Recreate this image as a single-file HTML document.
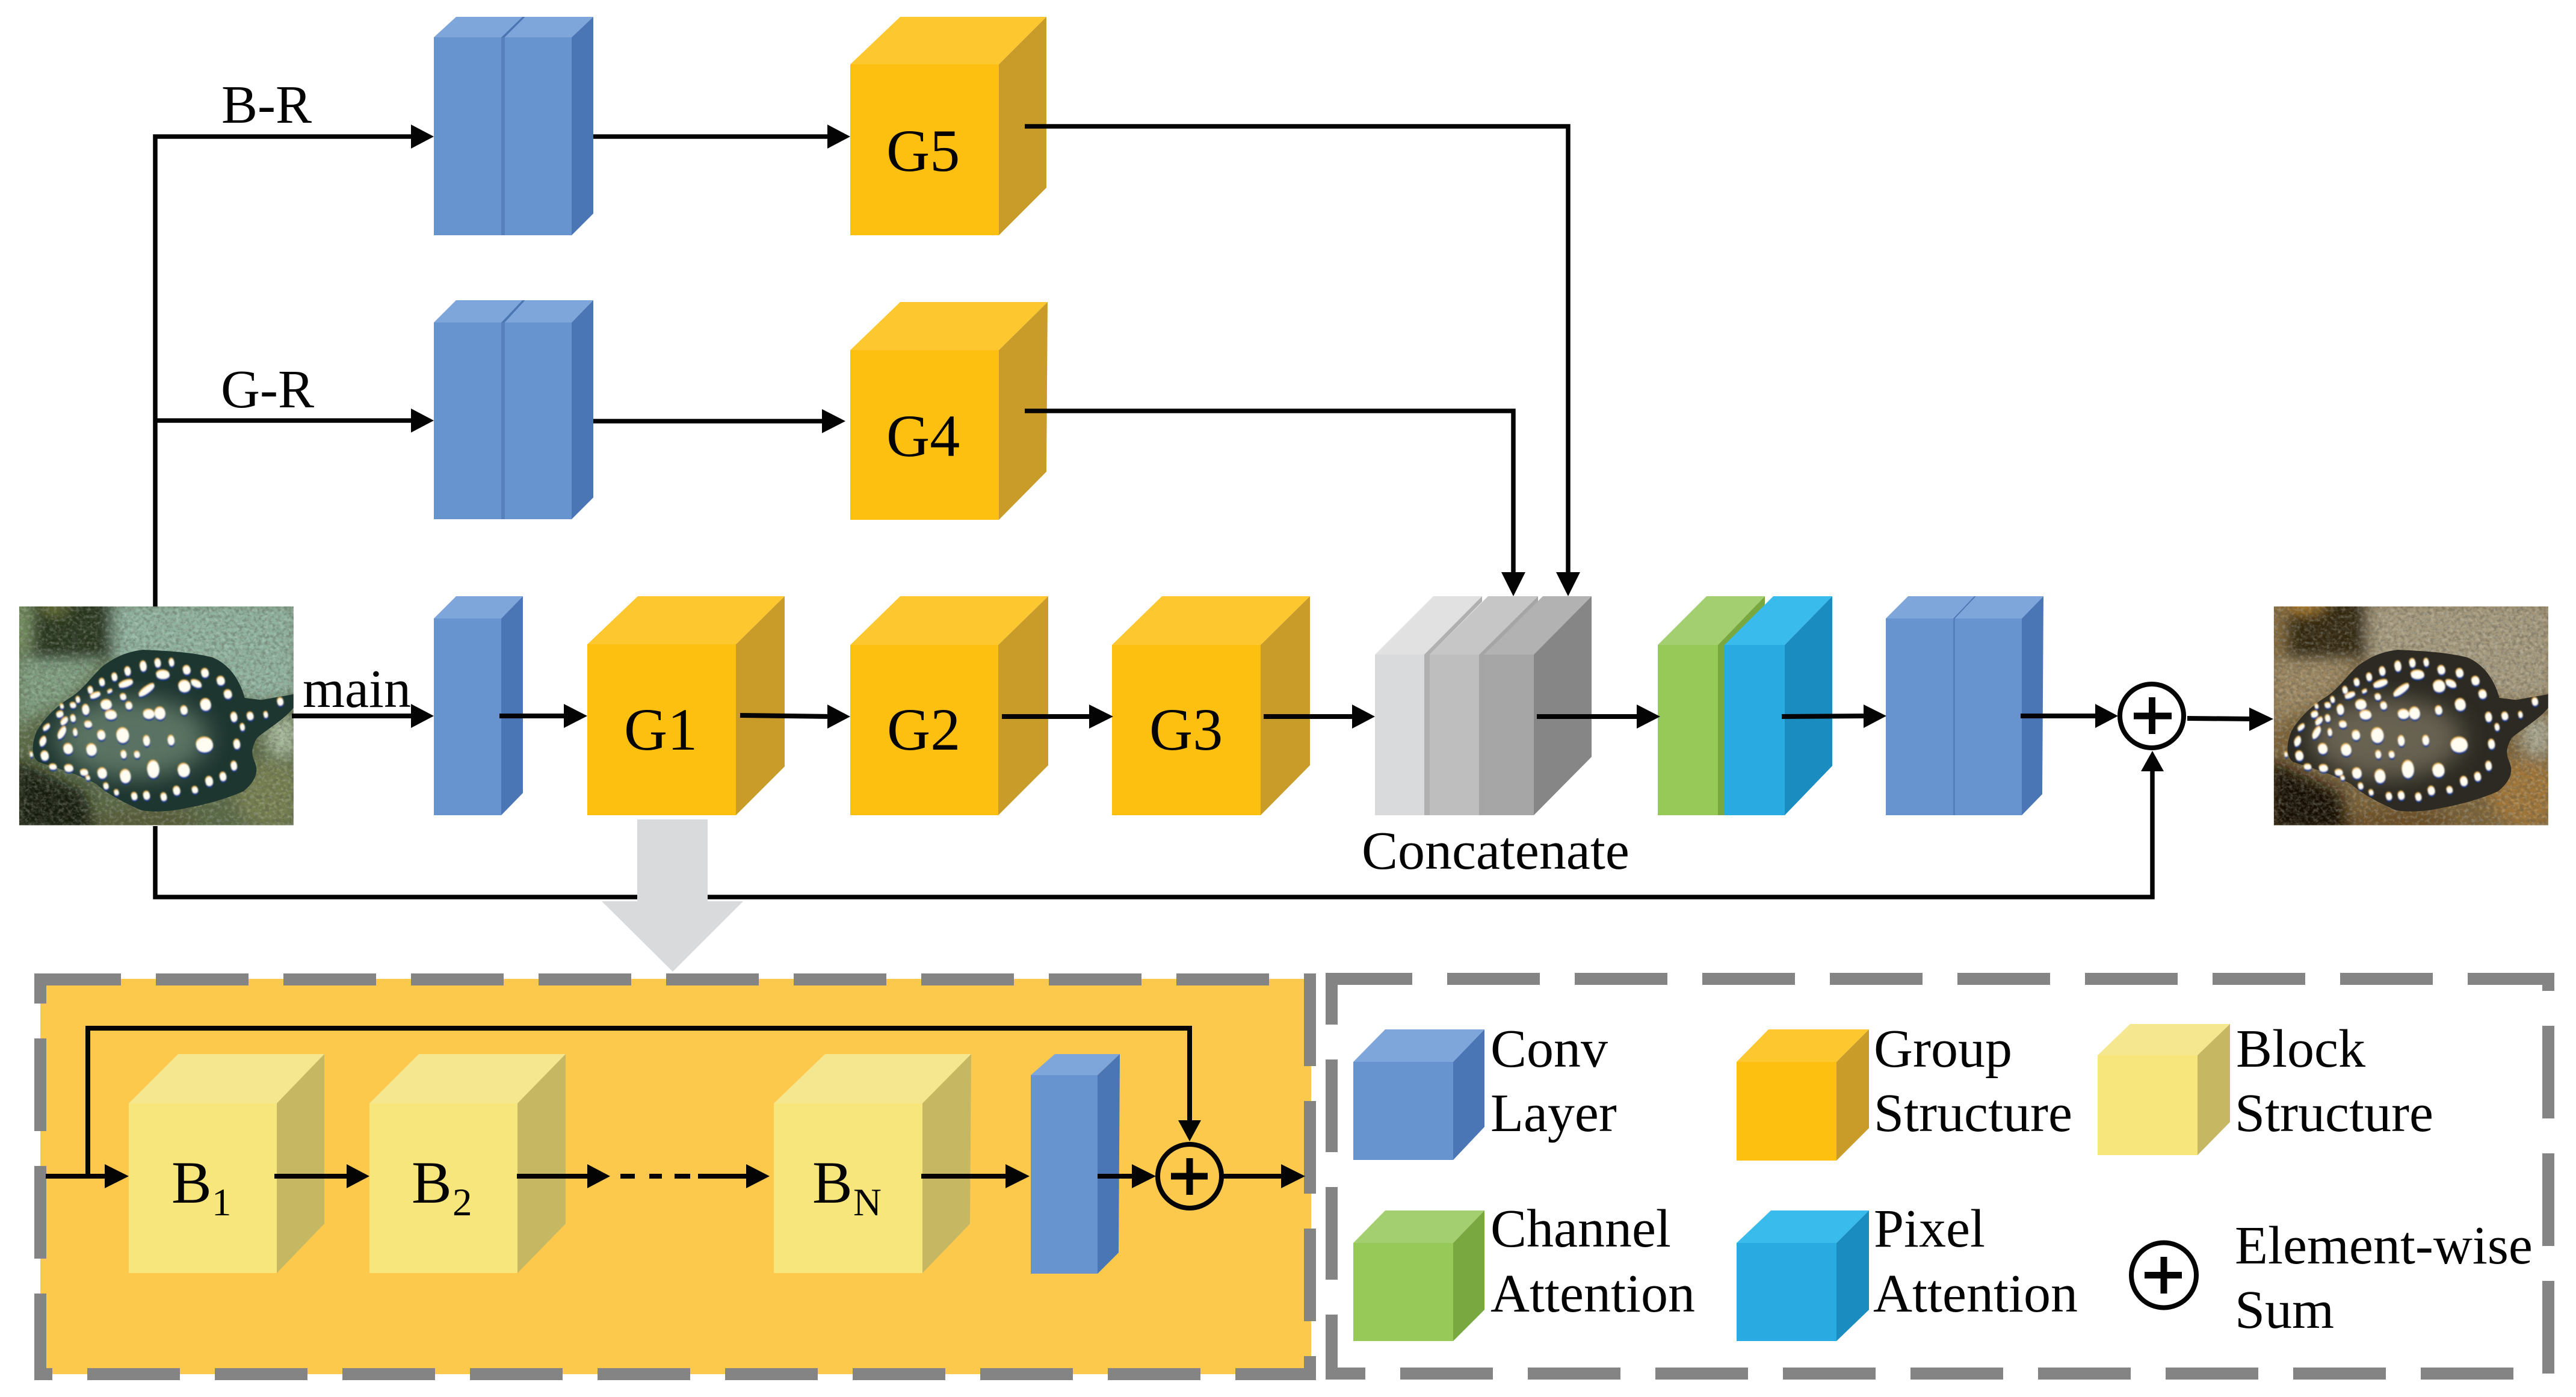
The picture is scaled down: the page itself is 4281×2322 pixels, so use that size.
<!DOCTYPE html>
<html><head><meta charset="utf-8"><style>html,body{margin:0;padding:0;background:#fff}svg{display:block}text{font-family:"Liberation Serif",serif;fill:#040404}</style></head><body>
<svg xmlns="http://www.w3.org/2000/svg" width="4281" height="2322" viewBox="0 0 4281 2322">
<defs>
<filter id="bl" x="-20%" y="-20%" width="140%" height="140%"><feGaussianBlur stdDeviation="32"/></filter>
<filter id="bl2" x="-20%" y="-20%" width="140%" height="140%"><feGaussianBlur stdDeviation="55"/></filter>
<filter id="sp" x="-20%" y="-20%" width="140%" height="140%"><feGaussianBlur stdDeviation="3"/></filter>
<filter id="tx" x="0" y="0" width="100%" height="100%"><feTurbulence type="fractalNoise" baseFrequency="0.06" numOctaves="3" seed="7"/><feColorMatrix type="matrix" values="0 0 0 0 0.1  0 0 0 0 0.1  0 0 0 0 0.08  3 0 0 0 -1.2"/></filter>
<filter id="tl" x="0" y="0" width="100%" height="100%"><feTurbulence type="fractalNoise" baseFrequency="0.06" numOctaves="3" seed="23"/><feColorMatrix type="matrix" values="0 0 0 0 0.85  0 0 0 0 0.9  0 0 0 0 0.85  3 0 0 0 -1.35"/></filter>
<clipPath id="pc"><rect x="213" y="174" width="1231" height="1091"/></clipPath>
<path id="body" d="M1444 612 L1300 640 L1225 630 C1200 530 1150 460 1080 428 C980 400 860 395 770 390 C690 400 640 430 590 470 C540 520 500 590 440 630 C370 680 320 740 290 800 C270 860 265 920 300 950 C370 975 480 1010 560 1060 C610 1110 680 1150 760 1190 C830 1205 920 1190 960 1180 C1060 1160 1150 1130 1220 1095 C1270 1050 1290 1000 1270 950 C1250 900 1260 870 1280 830 C1320 790 1400 740 1444 680 Z"/>
<g id="spots">
<ellipse cx="770" cy="473" rx="15" ry="24"/><ellipse cx="835" cy="457" rx="14" ry="20"/><ellipse cx="897" cy="454" rx="12" ry="18"/><ellipse cx="965" cy="492" rx="17" ry="20"/><ellipse cx="1047" cy="507" rx="17" ry="20"/><ellipse cx="1118" cy="546" rx="18" ry="20"/><ellipse cx="700" cy="498" rx="14" ry="20"/><ellipse cx="641" cy="527" rx="13" ry="18"/><ellipse cx="585" cy="553" rx="13" ry="17"/><ellipse cx="533" cy="592" rx="12" ry="16"/><ellipse cx="858" cy="515" rx="30" ry="20"/>
<ellipse cx="692" cy="560" rx="34" ry="14" transform="rotate(-22 692 560)"/><ellipse cx="955" cy="573" rx="27" ry="28"/><ellipse cx="1008" cy="560" rx="26" ry="15" transform="rotate(28 1008 560)"/><ellipse cx="785" cy="592" rx="44" ry="14" transform="rotate(-40 785 592)"/><ellipse cx="555" cy="618" rx="25" ry="11" transform="rotate(-25 555 618)"/><ellipse cx="620" cy="598" rx="13" ry="6" transform="rotate(-30 620 598)"/><ellipse cx="680" cy="626" rx="14" ry="14"/><ellipse cx="706" cy="670" rx="15" ry="17"/><ellipse cx="604" cy="665" rx="25" ry="23" transform="rotate(-15 604 665)"/><ellipse cx="512" cy="690" rx="16" ry="24"/><ellipse cx="477" cy="640" rx="10" ry="14"/><ellipse cx="455" cy="668" rx="14" ry="12"/><ellipse cx="405" cy="673" rx="9" ry="10"/><ellipse cx="396" cy="713" rx="17" ry="13" transform="rotate(-30 396 713)"/><ellipse cx="455" cy="733" rx="12" ry="16"/><ellipse cx="416" cy="747" rx="22" ry="11" transform="rotate(-50 416 747)"/><ellipse cx="625" cy="716" rx="26" ry="21"/><ellipse cx="1050" cy="665" rx="24" ry="28"/><ellipse cx="953" cy="693" rx="16" ry="20"/><ellipse cx="795" cy="712" rx="25" ry="22"/><ellipse cx="845" cy="708" rx="24" ry="29"/><ellipse cx="1150" cy="613" rx="18" ry="20"/><ellipse cx="1177" cy="727" rx="15" ry="22"/><ellipse cx="1250" cy="722" rx="15" ry="18"/><ellipse cx="1320" cy="715" rx="10" ry="14"/><ellipse cx="1385" cy="650" rx="14" ry="18"/><ellipse cx="1215" cy="777" rx="11" ry="16"/><ellipse cx="1190" cy="862" rx="15" ry="22"/><ellipse cx="1045" cy="865" rx="38" ry="36"/><ellipse cx="895" cy="843" rx="15" ry="23"/><ellipse cx="785" cy="845" rx="15" ry="24"/><ellipse cx="678" cy="818" rx="28" ry="36"/><ellipse cx="582" cy="817" rx="18" ry="22"/><ellipse cx="523" cy="763" rx="17" ry="15"/><ellipse cx="465" cy="803" rx="10" ry="17"/><ellipse cx="405" cy="805" rx="13" ry="32" transform="rotate(28 405 805)"/><ellipse cx="336" cy="778" rx="20" ry="9" transform="rotate(-45 336 778)"/><ellipse cx="320" cy="848" rx="13" ry="24" transform="rotate(22 320 848)"/><ellipse cx="433" cy="885" rx="21" ry="24"/><ellipse cx="538" cy="890" rx="23" ry="28"/><ellipse cx="328" cy="920" rx="18" ry="22"/><ellipse cx="268" cy="913" rx="7" ry="11"/><ellipse cx="682" cy="913" rx="13" ry="18"/><ellipse cx="742" cy="914" rx="13" ry="15"/><ellipse cx="815" cy="987" rx="27" ry="42"/><ellipse cx="952" cy="992" rx="27" ry="32"/><ellipse cx="1177" cy="970" rx="14" ry="21"/><ellipse cx="1128" cy="1024" rx="15" ry="20"/><ellipse cx="1066" cy="1047" rx="17" ry="22"/><ellipse cx="920" cy="1094" rx="16" ry="20"/><ellipse cx="1002" cy="1090" rx="14" ry="15"/><ellipse cx="862" cy="1125" rx="14" ry="18"/><ellipse cx="785" cy="1118" rx="15" ry="19"/><ellipse cx="730" cy="1122" rx="14" ry="17"/><ellipse cx="650" cy="1103" rx="11" ry="12"/><ellipse cx="603" cy="1071" rx="12" ry="14"/><ellipse cx="690" cy="1022" rx="24" ry="32"/><ellipse cx="586" cy="1007" rx="21" ry="25"/><ellipse cx="505" cy="1003" rx="18" ry="14"/><ellipse cx="436" cy="982" rx="20" ry="16"/><ellipse cx="365" cy="975" rx="17" ry="12"/><ellipse cx="522" cy="1030" rx="10" ry="9"/>
</g>
<g id="sp3"><use href="#spots" fill="#123c9a" transform="translate(1 9)"/><use href="#spots" fill="#f0bb55" transform="translate(-2 -7)"/><use href="#spots" fill="#fffdf2"/></g>
</defs>
<rect width="4281" height="2322" fill="#fff"/>

<!-- right photo -->
<g transform="translate(3700 950) scale(.37037 .33333)"><g clip-path="url(#pc)">
<rect x="213" y="174" width="1231" height="1091" fill="#7d6338"/>
<g filter="url(#bl)">
<rect x="640" y="150" width="830" height="460" fill="#a69a7e"/>
<polygon points="1200,560 1470,560 1470,620 1240,660" fill="#a69a7e"/>
<polygon points="200,420 620,420 440,640 280,720 200,800" fill="#9d8760"/>
<rect x="270" y="130" width="360" height="310" fill="#33260f"/>
<ellipse cx="350" cy="165" rx="90" ry="40" fill="#b5822f"/>
<rect x="190" y="150" width="70" height="240" fill="#8a6e40"/>
<ellipse cx="1395" cy="820" rx="80" ry="110" fill="#a8a48c"/>
<polygon points="190,940 500,1090 570,1300 190,1300" fill="#120803"/>
<ellipse cx="780" cy="1240" rx="240" ry="50" fill="#6a4c22"/>
<ellipse cx="1340" cy="1110" rx="160" ry="170" fill="#a17638"/>
</g>
<rect x="213" y="174" width="1231" height="1091" filter="url(#tx)" opacity=".4"/>
<rect x="213" y="174" width="1231" height="1091" filter="url(#tl)" opacity=".2"/>
<use href="#body" fill="#2c2a22"/>
<ellipse cx="720" cy="830" rx="340" ry="200" fill="#77705d" opacity=".8" filter="url(#bl2)"/>
<use href="#sp3" filter="url(#sp)"/>
</g></g>

<!-- left photo -->
<g transform="translate(-47 950) scale(.37037 .33333)"><g clip-path="url(#pc)">
<rect x="213" y="174" width="1231" height="1091" fill="#5a6a45"/>
<g filter="url(#bl)">
<rect x="640" y="150" width="830" height="460" fill="#90b3a0"/>
<polygon points="1200,560 1470,560 1470,620 1240,660" fill="#90b3a0"/>
<polygon points="200,420 620,420 440,640 280,720 200,800" fill="#7f9f80"/>
<rect x="270" y="130" width="360" height="310" fill="#27351f"/>
<ellipse cx="370" cy="180" rx="60" ry="30" fill="#6f7a38"/>
<rect x="190" y="150" width="70" height="240" fill="#7d9a68"/>
<ellipse cx="1395" cy="820" rx="80" ry="110" fill="#a4b898"/>
<polygon points="190,940 500,1090 570,1300 190,1300" fill="#151a0c"/>
<ellipse cx="780" cy="1240" rx="240" ry="50" fill="#565a35"/>
<ellipse cx="1340" cy="1110" rx="160" ry="170" fill="#767f50"/>
</g>
<rect x="213" y="174" width="1231" height="1091" filter="url(#tx)" opacity=".4"/>
<rect x="213" y="174" width="1231" height="1091" filter="url(#tl)" opacity=".2"/>
<use href="#body" fill="#1e3630"/>
<ellipse cx="720" cy="830" rx="340" ry="200" fill="#6a8270" opacity=".8" filter="url(#bl2)"/>
<use href="#sp3" filter="url(#sp)"/>
</g></g>

<!-- row 1 double conv -->
<g>
<polygon points="721,62 833,62 868,28 758,28" fill="#7fa6da"/><polygon points="833,62 839,62 873,28 868,28" fill="#4a76b5"/>
<polygon points="839,62 950,62 986,28 873,28" fill="#7fa6da"/><polygon points="950,62 986,28 986,355 950,391" fill="#4a76b5"/>
<rect x="721" y="62" width="112" height="329" fill="#6794cf"/><rect x="833" y="62" width="6" height="329" fill="#5580bb"/><rect x="839" y="62" width="111" height="329" fill="#6794cf"/>
<!-- row 2 double conv -->
<polygon points="721,536 833,536 868,499 758,499" fill="#7fa6da"/><polygon points="833,536 839,536 873,499 868,499" fill="#4a76b5"/>
<polygon points="839,536 950,536 986,499 873,499" fill="#7fa6da"/><polygon points="950,536 986,499 986,827 950,863" fill="#4a76b5"/>
<rect x="721" y="536" width="112" height="327" fill="#6794cf"/><rect x="833" y="536" width="6" height="327" fill="#5580bb"/><rect x="839" y="536" width="111" height="327" fill="#6794cf"/>
<!-- G5 -->
<polygon points="1413,107 1660,107 1739,28 1496,28" fill="#fdc82f"/><polygon points="1660,107 1739,28 1739,312 1660,391" fill="#c99c2a"/><rect x="1413" y="107" width="247" height="284" fill="#fec010"/>
<!-- G4 -->
<polygon points="1413,582 1660,582 1741,502 1496,502" fill="#fdc82f"/><polygon points="1660,582 1741,502 1739,784 1660,864" fill="#c99c2a"/><rect x="1413" y="582" width="247" height="282" fill="#fec010"/>
<!-- main conv -->
<polygon points="721,1028 833,1028 869,991 758,991" fill="#7fa6da"/><polygon points="833,1028 869,991 869,1318 833,1355" fill="#4a76b5"/><rect x="721" y="1028" width="112" height="327" fill="#6794cf"/>
<!-- G1 G2 G3 -->
<polygon points="976,1071 1223,1071 1304,991 1060,991" fill="#fdc82f"/><polygon points="1223,1071 1304,991 1304,1274 1223,1355" fill="#c99c2a"/><rect x="976" y="1071" width="247" height="284" fill="#fec010"/>
<polygon points="1413,1072 1659,1072 1742,991 1496,991" fill="#fdc82f"/><polygon points="1659,1072 1742,991 1742,1272 1659,1355" fill="#c99c2a"/><rect x="1413" y="1072" width="246" height="283" fill="#fec010"/>
<polygon points="1848,1072 2095,1072 2177,991 1931,991" fill="#fdc82f"/><polygon points="2095,1072 2177,991 2177,1272 2095,1355" fill="#c99c2a"/><rect x="1848" y="1072" width="247" height="283" fill="#fec010"/>
<!-- concat -->
<polygon points="2285,1088 2367,1088 2463,991 2382,991" fill="#e0e1e0"/><polygon points="2367,1088 2463,991 2463,1000 2376,1088 2376,1355 2367,1355" fill="#b0b0b0"/><rect x="2285" y="1088" width="82" height="267" fill="#d9dadb"/>
<polygon points="2376,1088 2458,1088 2556,991 2473,991" fill="#c6c6c6"/><polygon points="2458,1088 2556,991 2556,1000 2467,1088 2467,1355 2458,1355" fill="#a5a5a5"/><rect x="2376" y="1088" width="82" height="267" fill="#bfbebf"/>
<polygon points="2467,1088 2549,1088 2645,991 2564,991" fill="#b2b2b2"/><polygon points="2549,1088 2645,991 2645,1258 2549,1355" fill="#868686"/><rect x="2467" y="1088" width="82" height="267" fill="#a6a6a6"/>
<!-- green + blue -->
<polygon points="2755,1072 2855,1072 2933,991 2836,991" fill="#a4cf71"/><polygon points="2855,1072 2933,991 2933,1005 2866,1078 2866,1355 2855,1355" fill="#79a840"/><rect x="2755" y="1072" width="100" height="283" fill="#96c957"/>
<polygon points="2866,1072 2966,1072 3045,991 2947,991" fill="#39bcec"/><polygon points="2966,1072 3045,991 3045,1273 2966,1355" fill="#1b8cc0"/><rect x="2866" y="1072" width="100" height="283" fill="#29abe2"/>
<!-- double conv -->
<polygon points="3134,1028 3246,1028 3281,991 3171,991" fill="#7fa6da"/><polygon points="3246,1028 3249,1028 3284,991 3281,991" fill="#4a76b5"/><polygon points="3249,1028 3360,1028 3396,991 3284,991" fill="#7fa6da"/><polygon points="3360,1028 3396,991 3394,1320 3360,1355" fill="#4a76b5"/>
<rect x="3134" y="1028" width="112" height="327" fill="#6794cf"/><rect x="3246" y="1028" width="3" height="327" fill="#5580bb"/><rect x="3249" y="1028" width="111" height="327" fill="#6794cf"/>
</g>

<!-- connectors top -->
<g fill="none" stroke="#040404" stroke-width="7.5">
<path d="M258 1008 V227 H690"/><path d="M258 699 H690"/><path d="M986 227 H1380"/><path d="M986 700 H1372"/>
<path d="M1703 210 H2606 V955"/><path d="M1703 683 H2515 V955"/>
<path d="M258 1373 V1491 H3577 V1278"/>
</g>
<g fill="#040404">
<polygon points="683,207 721,227 683,247"/><polygon points="683,679 721,699 683,719"/>
<polygon points="1375,207 1413,227 1375,247"/><polygon points="1366,680 1405,700 1366,720"/>
<polygon points="2495,951 2535,951 2515,991"/><polygon points="2586,951 2626,951 2606,991"/>
<polygon points="3558,1282 3596,1282 3577,1248"/>
</g>
<g fill="none" stroke="#040404" stroke-width="8">
<path d="M485 1190 H690"/><path d="M830 1190 H945"/><path d="M1230 1189 L1385 1191"/><path d="M1665 1191 H1815"/><path d="M2100 1191 H2252"/><path d="M2554 1191 H2725"/><path d="M2961 1191 L3102 1190"/><path d="M3358 1190 H3488"/><path d="M3635 1194 L3745 1195"/>
</g>
<g fill="#040404">
<polygon points="683,1170 721,1190 683,1210"/><polygon points="937,1170 976,1190 937,1210"/><polygon points="1375,1171 1413,1191 1375,1211"/><polygon points="1810,1171 1850,1191 1810,1211"/><polygon points="2247,1171 2285,1191 2247,1211"/><polygon points="2720,1171 2759,1191 2720,1211"/><polygon points="3097,1171 3135,1190 3097,1210"/><polygon points="3482,1170 3520,1190 3482,1210"/><polygon points="3738,1176 3778,1195 3738,1215"/>
</g>
<circle cx="3576" cy="1190" r="53" fill="#fff" stroke="#040404" stroke-width="8"/>
<path d="M3546 1190 H3609 M3576.500 1159 V1220" stroke="#040404" stroke-width="11" fill="none"/>

<!-- gray down arrow -->
<polygon points="1059,1362 1176,1362 1176,1498 1235,1498 1118,1615 1000,1498 1059,1498" fill="#d9dadb"/>

<!-- labels top -->
<text x="368" y="204" font-size="90">B-R</text>
<text x="367" y="677" font-size="90">G-R</text>
<text x="503" y="1175" font-size="90">main</text>
<text x="1473" y="284" font-size="100">G5</text>
<text x="1473" y="758" font-size="100">G4</text>
<text x="1037" y="1246" font-size="100">G1</text>
<text x="1474" y="1246" font-size="100">G2</text>
<text x="1910" y="1246" font-size="100">G3</text>
<text x="2263" y="1444" font-size="90">Concatenate</text>

<!-- lower left box -->
<rect x="67" y="1627" width="2112" height="657" fill="#fdc94d"/>
<rect x="67" y="1628" width="2110" height="656" fill="none" stroke="#848484" stroke-width="20" stroke-dasharray="154 58" stroke-dashoffset="20"/>
<g>
<polygon points="214,1834 460,1834 539,1752 296,1752" fill="#f5e690"/><polygon points="460,1834 539,1752 539,2034 460,2116" fill="#c6b763"/><rect x="214" y="1834" width="246" height="282" fill="#f6e67c"/>
<polygon points="614,1834 860,1834 940,1752 696,1752" fill="#f5e690"/><polygon points="860,1834 940,1752 940,2034 860,2116" fill="#c6b763"/><rect x="614" y="1834" width="246" height="282" fill="#f6e67c"/>
<polygon points="1286,1834 1533,1834 1614,1752 1371,1752" fill="#f5e690"/><polygon points="1533,1834 1614,1752 1612,2034 1533,2116" fill="#c6b763"/><rect x="1286" y="1834" width="247" height="282" fill="#f6e67c"/>
<polygon points="1713,1787 1824,1787 1861,1752 1753,1752" fill="#7fa6da"/><polygon points="1824,1787 1861,1752 1859,2082 1824,2117" fill="#4a76b5"/><rect x="1713" y="1787" width="111" height="330" fill="#6794cf"/>
</g>
<g fill="none" stroke="#040404" stroke-width="8">
<path d="M146 1955 V1709 H1977 V1865"/>
<path d="M76 1955 H180"/><path d="M456 1955 H580"/><path d="M859 1955 H980"/><path d="M1031 1955 H1055 M1079 1955 H1100 M1121 1955 H1147"/><path d="M1160 1955 H1245"/><path d="M1531 1955 H1676"/><path d="M1824 1955 H1886"/><path d="M2033 1955 H2134"/>
</g>
<g fill="#040404">
<polygon points="174,1935 214,1955 174,1975"/><polygon points="576,1935 614,1955 576,1975"/><polygon points="976,1935 1014,1955 976,1975"/><polygon points="1240,1935 1279,1955 1240,1975"/><polygon points="1671,1935 1711,1955 1671,1975"/><polygon points="1881,1935 1921,1955 1881,1975"/><polygon points="2129,1935 2169,1955 2129,1975"/>
<polygon points="1958,1862 1996,1862 1977,1897"/>
</g>
<circle cx="1977" cy="1955" r="53" fill="none" stroke="#040404" stroke-width="8"/>
<path d="M1946 1955 H2007 M1977 1925 V1986" stroke="#040404" stroke-width="11" fill="none"/>
<text x="285" y="1999" font-size="100">B</text><text x="352" y="2020" font-size="65">1</text>
<text x="684" y="1999" font-size="100">B</text><text x="752" y="2020" font-size="65">2</text>
<text x="1350" y="1999" font-size="100">B</text><text x="1418" y="2020" font-size="65">N</text>

<!-- legend box -->
<rect x="2213" y="1627" width="2022" height="656" fill="#fff" stroke="#848484" stroke-width="20" stroke-dasharray="154 58" stroke-dashoffset="20"/>
<g>
<polygon points="2249,1765 2415,1765 2467,1711 2302,1711" fill="#7fa6da"/><polygon points="2415,1765 2467,1711 2467,1873 2415,1928" fill="#4a76b5"/><rect x="2249" y="1765" width="166" height="163" fill="#6794cf"/>
<polygon points="2886,1765 3052,1765 3106,1711 2939,1711" fill="#fdc82f"/><polygon points="3052,1765 3106,1711 3106,1875 3052,1929" fill="#c99c2a"/><rect x="2886" y="1765" width="166" height="164" fill="#fec010"/>
<polygon points="3486,1754 3652,1754 3706,1702 3540,1702" fill="#f5e690"/><polygon points="3652,1754 3706,1702 3706,1865 3652,1920" fill="#c6b763"/><rect x="3486" y="1754" width="166" height="166" fill="#f6e67c"/>
<polygon points="2249,2066 2415,2066 2467,2012 2302,2012" fill="#a4cf71"/><polygon points="2415,2066 2467,2012 2467,2177 2415,2229" fill="#79a840"/><rect x="2249" y="2066" width="166" height="163" fill="#96c957"/>
<polygon points="2886,2066 3052,2066 3106,2012 2943,2012" fill="#39bcec"/><polygon points="3052,2066 3106,2012 3106,2177 3052,2229" fill="#1b8cc0"/><rect x="2886" y="2066" width="166" height="163" fill="#29abe2"/>
</g>
<circle cx="3596" cy="2119.500" r="54" fill="none" stroke="#040404" stroke-width="8"/>
<path d="M3564 2119.500 H3626 M3596 2089 V2150" stroke="#040404" stroke-width="11" fill="none"/>
<g font-size="90">
<text x="2477" y="1773">Conv</text><text x="2477" y="1880">Layer</text>
<text x="2477" y="2072">Channel</text><text x="2477" y="2180">Attention</text>
<text x="3114" y="1773">Group</text><text x="3114" y="1880">Structure</text>
<text x="3114" y="2072">Pixel</text><text x="3113" y="2180">Attention</text>
<text x="3716" y="1773">Block</text><text x="3714" y="1880">Structure</text>
<text x="3714" y="2100">Element-wise</text><text x="3714" y="2207">Sum</text>
</g>
</svg>
</body></html>
